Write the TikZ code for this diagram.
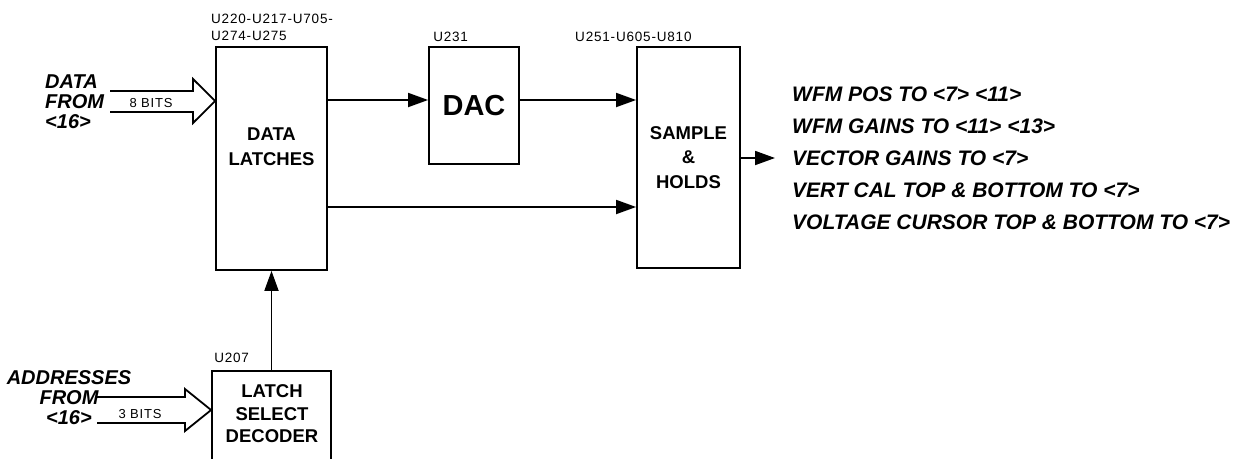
\documentclass[tikz,border=0pt]{standalone}
\usepackage{fontspec}
\setmainfont{Liberation Sans}
\newfontfamily\partfont{Liberation Sans}[LetterSpace=6]
\usetikzlibrary{arrows.meta}

\tikzset{
  blk/.style={draw, line width=1.8pt, inner sep=0pt},
  blktext/.style={font=\bfseries\fontsize{18.5}{24.5}\selectfont, align=center, inner sep=0pt},
  part/.style={font=\partfont\fontsize{13.5}{17}\selectfont, inner sep=0pt, anchor=base west, align=left},
  bits/.style={font=\partfont\fontsize{13}{15}\selectfont, inner sep=0pt},
  sig/.style={line width=1.8pt, -{Triangle[length=20pt,width=14pt]}},
  bus/.style={line width=1.8pt, line join=miter},
  intext/.style={font=\bfseries\itshape\fontsize{20}{20}\selectfont, inner sep=0pt},
  outtext/.style={font=\bfseries\itshape\fontsize{21}{24}\selectfont, anchor=west, inner sep=0pt},
}

\begin{document}
\begin{tikzpicture}[x=1pt,y=-1pt]
\useasboundingbox (0,0) rectangle (1238,458);
% blocks
\node[blk, minimum width=111pt, minimum height=223pt] (latches) at (271.5,158.5) {};
\node[blktext] (latchtext) at ([yshift=12pt]latches.center) {DATA\\LATCHES};
\node[blk, minimum width=90pt, minimum height=117pt, font=\bfseries\fontsize{29}{30}\selectfont] (dac) at (474,105.5) {DAC};
\node[blk, blktext, minimum width=103pt, minimum height=221pt] (sh) at (688.5,157.5) {SAMPLE\\\&\\HOLDS};
\node[blk, minimum width=119pt, minimum height=100pt, anchor=north] (dec) at (latches.south |- 0,370) {};
\node[blktext, font=\bfseries\fontsize{18.5}{22.5}\selectfont] (dectext) at (272,414) {LATCH\\SELECT\\DECODER};
% part numbers
\node[part] (latchparts) at (211,40) {U220-U217-U705-\\U274-U275};
\node[part] (dacparts) at ([xshift=5pt]dac.north west |- 0,41) {U231};
\node[part] (shparts) at (575,41) {U251-U605-U810};
\node[part] (decparts) at ([xshift=3pt]dec.north west |- 0,362) {U207};
% signal arrows
\draw[sig] (latches.east |- 0,100) -- (dac.west |- 0,100);
\draw[sig] (dac.east |- 0,100) -- (sh.west |- 0,100);
\draw[sig] (latches.east |- 0,207) -- (sh.west |- 0,207);
\draw[sig] (dec.north -| latches.south) -- (latches.south);
\coordinate (outtip) at (775,158);
\draw[sig] (sh.east |- outtip) -- (outtip);
% buses
\draw[bus] (110,91) -- (193,91) -- (193,79) -- (latches.west |- 0,101) -- (193,123) -- (193,112) -- (110,112);
\node[bits] (dbits) at (151,103) {8 BITS};
\draw[bus] (97,397) -- (185,397) -- (185,389) -- (dec.west |- 0,410) -- (185,431) -- (185,423) -- (97,423);
\node[bits] (abits) at (140,414) {3 BITS};
% inputs
\node[intext, align=left, anchor=west] (datain) at (45,102) {DATA\\FROM\\<16>};
\node[intext, align=center] (addrin) at (69,398) {ADDRESSES\\FROM\\<16>};
% outputs
\foreach \txt [count=\i] in {WFM POS TO <7> <11>, WFM GAINS TO <11> <13>, VECTOR GAINS TO <7>,
  VERT CAL TOP \& BOTTOM TO <7>, VOLTAGE CURSOR TOP \& BOTTOM TO <7>}
  \node[outtext] (out\i) at (792,62+32*\i) {\txt};
\end{tikzpicture}
\end{document}
